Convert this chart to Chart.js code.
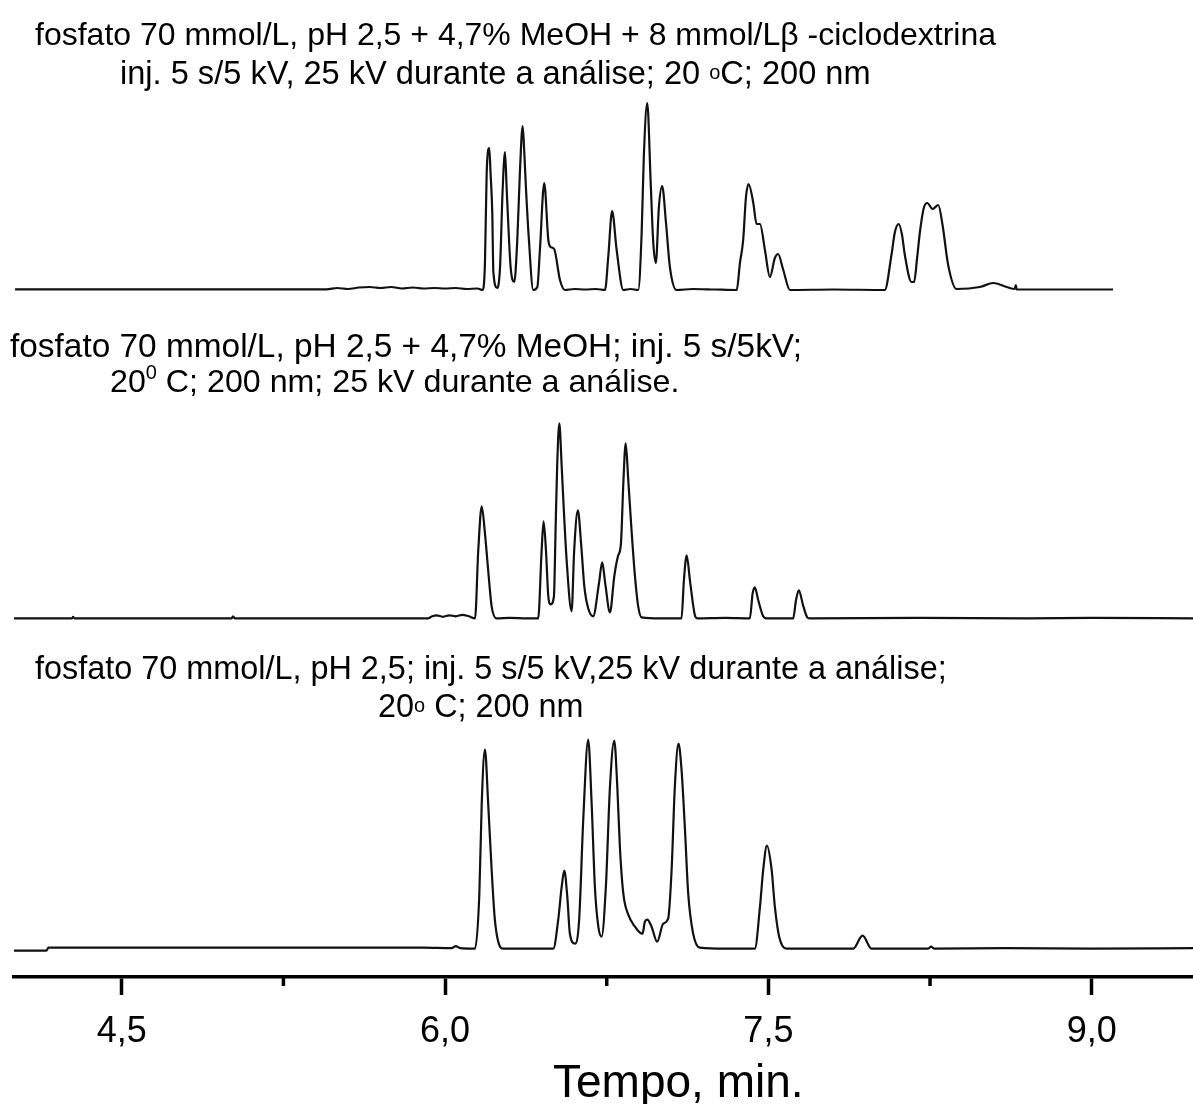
<!DOCTYPE html>
<html>
<head>
<meta charset="utf-8">
<script src="https://cdn.jsdelivr.net/npm/chart.js@4.4.1/dist/chart.umd.min.js"></script>
<style>
html,body{margin:0;padding:0;background:#fff;}
#wrap{width:1193px;height:1104px;position:relative;}
</style>
</head>
<body>
<div id="wrap"><canvas id="c"></canvas></div>
<script>
// ---- data (time in min, signal in arbitrary units) ----
const topTime = [4.005,5.45,5.5,5.55,5.6,5.65,5.7,5.75,5.8,5.85,5.9,5.95,6.0,6.05,6.1,6.15,6.174,
  6.185,6.193,6.205,6.211,6.219,6.224,6.242,
  6.255,6.267,6.278,6.286,6.293,6.304,6.321,
  6.335,6.347,6.36,6.367,6.375,6.389,6.409,
  6.428,6.44,6.46,6.479,6.49,6.506,6.533,6.556,
  6.6,6.65,6.7,6.742,
  6.757,6.775,6.796,6.827,
  6.86,6.896,
  6.912,6.922,6.938,6.954,6.966,6.978,
  6.992,7.007,7.025,7.043,7.074,
  7.15,7.25,7.353,
  7.368,7.383,7.396,7.408,7.43,7.445,7.461,7.484,7.507,
  7.53,7.545,7.569,7.6,
  7.8,8.04,
  8.071,8.087,8.105,8.12,8.133,8.164,
  8.176,8.19,8.203,8.221,8.237,8.262,8.288,8.308,8.334,8.373,
  8.481,8.543,8.605,8.643,8.648,8.652,9.099];
const topSignal = [0.7,0.7,2,1,2.5,3,2,3,1.5,2.5,1.5,2,1.5,2,1,1.5,0,
  27,117,142,117,77,18,2,
  23,100,138,100,67,23,8,
  50,117,164,140,103,50,0,
  3,40,107,50,43,41,10,0,
  1,0.5,1,0,
  33,79,40,0,
  1,0,
  57,133,187,107,47,27,
  83,104,67,23,0,
  1,0.5,0,
  27,50,93,106,87,66,66,40,13,
  32,36,20,0,
  0.5,0,
  35,58,66,55,35,8,
  8,32,58,82,87,81,85,65,25,1,
  3,7,3,1,5,0.5,0.5];

const midTime = [4.0,4.27,4.274,4.28,5.01,5.016,5.025,5.92,5.94,5.96,5.99,6.02,6.05,6.08,6.11,6.139,
  6.154,6.17,6.185,6.2,6.216,6.239,
  6.3,6.38,6.432,
  6.448,6.457,6.468,6.479,6.49,6.505,
  6.513,6.52,6.53,6.541,6.551,6.564,6.587,
  6.599,6.616,6.632,6.646,6.664,6.687,
  6.714,6.729,6.743,6.765,
  6.785,6.802,6.816,6.827,6.838,6.85,6.866,6.881,6.896,6.912,
  7.0,7.097,
  7.108,7.121,7.136,7.159,7.17,
  7.3,7.414,
  7.427,7.437,7.453,7.476,7.49,
  7.615,7.628,7.641,7.661,7.68,7.69,
  8.2,8.7,9.0,9.47];
const midSignal = [0,0,1.5,0,0,2,0,0,2,3,1.5,3,2,3.5,2,0,
  68,112,85,48,12,0,
  0.5,0,0,
  68,97,68,22,14,22,
  92,152,195,152,108,58,7,
  68,108,72,32,10,2,
  35,56,35,6,
  42,62,75,135,175,138,85,42,12,1,
  0,0,
  38,63,38,3,0,
  0.5,0,
  25,31,18,2,0,
  0,18,28,13,1,0,
  0.5,0,0.5,0];

const botTime = [4.0,4.15,4.16,5.9,6.03,6.05,6.07,6.139,
  6.159,6.17,6.185,6.2,6.216,6.231,6.255,6.27,
  6.502,
  6.525,6.541,6.553,6.567,6.579,6.603,
  6.622,6.641,6.664,6.68,6.695,6.711,6.726,
  6.746,6.765,6.785,6.799,6.811,6.827,6.85,6.881,6.904,
  6.916,6.927,6.938,6.958,6.984,
  7.012,7.035,7.051,7.066,7.083,7.097,7.113,7.128,7.151,7.182,
  7.3,7.437,
  7.461,7.476,7.493,7.515,7.53,7.55,7.584,
  7.893,7.937,7.979,
  8.24,8.255,8.27,8.6,9.0,9.47];
const botSignal = [-2,-2,1,1,0.5,2.5,0.5,0,
  55,145,199,145,79,29,2,0,
  0,
  29,62,78,52,15,5,
  29,129,209,145,62,22,12,
  62,162,208,162,102,55,34,22,16,
  15,27,29,22,7,
  25,30,79,162,205,179,119,55,15,1,
  0,0,
  42,79,103,79,42,12,0,
  0,13,0,
  0,2,0,0.5,0,0.5];

const majorTicks = [4.5, 6.0, 7.5, 9.0];
const majorTickLabels = ['4,5', '6,0', '7,5', '9,0'];
const minorTicks = [5.25, 6.75, 8.25];
const axisTitle = 'Tempo, min.';

// panel notes: each line is a list of [text, kind]; kind '' normal, 'o' small o, 's' superscript
const notesTop = [
  [['fosfato 70 mmol/L, pH 2,5 + 4,7% MeOH + 8 mmol/Lβ -ciclodextrina', '']],
  [['inj. 5 s/5 kV, 25 kV durante a análise; 20 ', ''], ['o', 'o'], ['C; 200 nm', '']]
];
const notesMid = [
  [['fosfato 70 mmol/L, pH 2,5 + 4,7% MeOH; inj. 5 s/5kV;', '']],
  [['20', ''], ['0', 's'], [' C; 200 nm; 25 kV durante a análise.', '']]
];
const notesBot = [
  [['fosfato 70 mmol/L, pH 2,5; inj. 5 s/5 kV,25 kV durante a análise;', '']],
  [['20', ''], ['o', 'o'], [' C; 200 nm', '']]
];

// ---- drawing ----
const FONT = '"Liberation Sans", Arial, Helvetica, sans-serif';
const toPoints = (xs, ys) => xs.map((x, i) => ({x: x, y: ys[i]}));

function drawLine(c, segs, x, y, size) {
  let cx = x;
  segs.forEach(([txt, kind]) => {
    let dy = 0;
    if (kind === 'o') { c.font = Math.round(size * 0.62) + 'px ' + FONT; dy = -5; }
    else if (kind === 's') { c.font = Math.round(size * 0.62) + 'px ' + FONT; dy = -13; }
    else { c.font = size + 'px ' + FONT; }
    c.fillText(txt, cx, y + dy);
    cx += c.measureText(txt).width;
  });
}

const annotatePlugin = {
  id: 'annotate',
  afterDraw(chart) {
    const c = chart.ctx;
    const xs = chart.scales.x;
    c.save();
    // minor ticks
    c.strokeStyle = '#000';
    c.lineWidth = 3.5;
    minorTicks.forEach(v => {
      const px = xs.getPixelForValue(v);
      c.beginPath();
      c.moveTo(px, xs.top);
      c.lineTo(px, xs.top + 9);
      c.stroke();
    });
    // axis title
    c.fillStyle = '#000';
    c.textAlign = 'left';
    c.textBaseline = 'alphabetic';
    c.font = '46px ' + FONT;
    c.fillText(axisTitle, 553, 1097);
    // panel notes
    const t1 = chart.scales.y1.top, t2 = chart.scales.y2.top, t3 = chart.scales.y3.top;
    drawLine(c, notesTop[0], 35, t1 + 45, 32);
    drawLine(c, notesTop[1], 120, t1 + 84, 32.6);
    drawLine(c, notesMid[0], 10, t2 + 47, 33.4);
    drawLine(c, notesMid[1], 110, t2 + 82, 32.2);
    drawLine(c, notesBot[0], 35, t3 + 39, 32.4);
    drawLine(c, notesBot[1], 378, t3 + 77, 32.4);
    c.restore();
  }
};

const hiddenY = (min, max, weight) => ({
  type: 'linear', position: 'right', stack: 'panels', stackWeight: weight,
  min: min, max: max, display: true,
  ticks: {display: false}, grid: {display: false, drawTicks: false}, border: {display: false},
  afterFit: s => { s.width = 0; }
});

const lineStyle = {borderColor: '#111', borderWidth: 2.2, pointRadius: 0, fill: false,
  cubicInterpolationMode: 'monotone'};

new Chart(document.getElementById('c'), {
  type: 'line',
  data: {
    datasets: [
      Object.assign({label: 'MeOH + β-ciclodextrina', data: toPoints(topTime, topSignal), yAxisID: 'y1'}, lineStyle),
      Object.assign({label: 'MeOH', data: toPoints(midTime, midSignal), yAxisID: 'y2'}, lineStyle),
      Object.assign({label: 'fosfato', data: toPoints(botTime, botSignal), yAxisID: 'y3'}, lineStyle)
    ]
  },
  options: {
    responsive: true,
    maintainAspectRatio: false,
    animation: false,
    layout: {padding: {left: 14, right: 0, top: 0, bottom: 0}},
    plugins: {legend: {display: false}, tooltip: {enabled: false}, title: {display: false}},
    scales: {
      x: {
        type: 'linear', position: 'bottom', min: 4.0, max: 9.47,
        afterBuildTicks: s => { s.ticks = majorTicks.map(v => ({value: v})); },
        afterFit: s => { s.height = 127; },
        ticks: {autoSkip: false, maxRotation: 0, padding: 15, color: '#000',
          font: {family: FONT, size: 36}, callback: (v, i) => majorTickLabels[i]},
        grid: {display: true, drawOnChartArea: false, drawTicks: true, tickLength: 18,
          tickWidth: 3.5, tickColor: '#000'},
        border: {display: true, color: '#000', width: 3.5}
      },
      y1: hiddenY(-20, 290, 310),
      y2: hiddenY(-21.7, 308.3, 330),
      y3: hiddenY(-28.3, 308.7, 337)
    }
  },
  plugins: [annotatePlugin]
});
</script>
</body>
</html>
